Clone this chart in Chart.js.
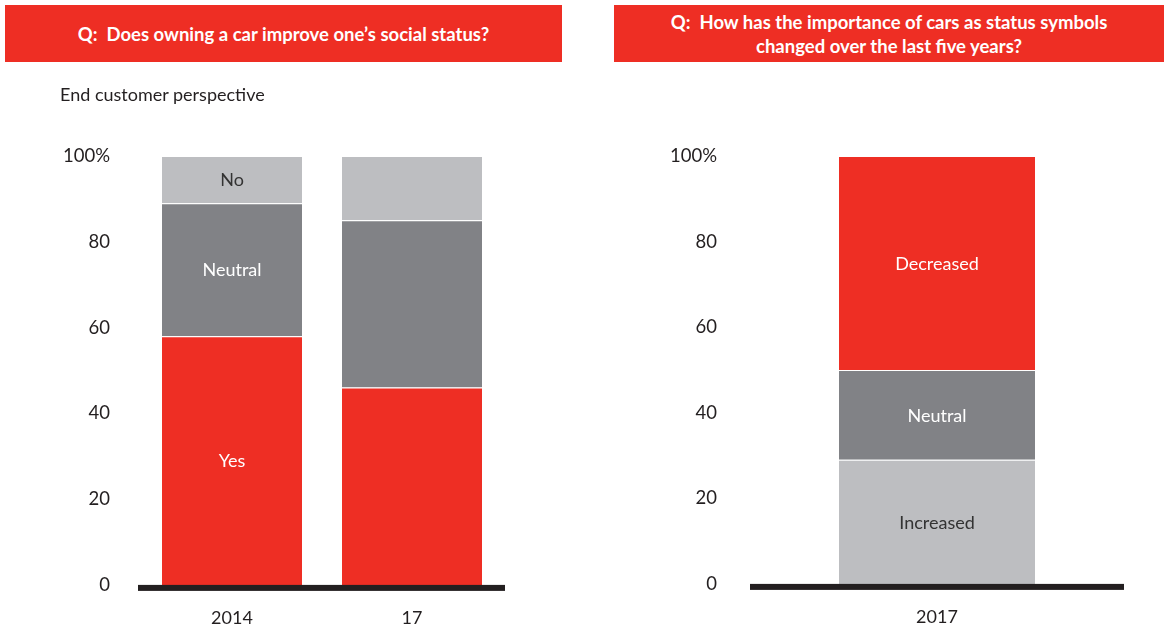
<!DOCTYPE html>
<html><head><meta charset="utf-8">
<script src="https://cdn.jsdelivr.net/npm/chart.js@4.4.1/dist/chart.umd.min.js"></script>
<style>
html,body{margin:0;padding:0;background:#fff;width:1164px;height:628px;overflow:hidden;position:relative;font-family:Lato, "Open Sans", sans-serif;}
.hdr{position:absolute;top:5px;height:57px;background:#EE2E24;color:#fff;font-weight:700;font-size:18.5px;display:flex;align-items:center;justify-content:center;text-align:center;line-height:24px;white-space:pre;z-index:2;}
#c1{position:absolute;left:0;top:0;}
#c2{position:absolute;left:590px;top:0;}
.sub{position:absolute;left:60px;top:83px;font-size:18px;color:#231F20;z-index:2;}
</style>
</head>
<body>
<div class="hdr" style="left:5px;width:557px;">Q:  Does owning a car improve one’s social status?</div>
<div class="hdr" style="left:614px;width:550px;">Q:  How has the importance of cars as status symbols
changed over the last five years?</div>
<div class="sub">End customer perspective</div>
<canvas id="c1" width="582" height="628"></canvas>
<canvas id="c2" width="574" height="628"></canvas>
<script>
// ---- data ----
const leftCategories = ['2014', '17'];
const leftYes = [58, 46];
const leftNeutral = [31, 39];
const leftNo = [11, 15];
const leftYesLabels = ['Yes', ''];
const leftNeutralLabels = ['Neutral', ''];
const leftNoLabels = ['No', ''];

const rightCategories = ['2017'];
const rightIncreased = [29];
const rightNeutral = [21];
const rightDecreased = [50];
const rightIncreasedLabels = ['Increased'];
const rightNeutralLabels = ['Neutral'];
const rightDecreasedLabels = ['Decreased'];

const yTickValues = [0, 20, 40, 60, 80, 100];
const yTickLabels = ['0', '20', '40', '60', '80', '100%'];

// ---- style ----
const RED = '#EE2E24', DARK = '#818286', LIGHT = '#BDBEC1', INK = '#231F20';
const FONT = 'Lato, "Open Sans", sans-serif';

const segLabelPlugin = {
  id: 'segLabels',
  afterDatasetsDraw(chart) {
    const ctx = chart.ctx;
    ctx.save();
    ctx.font = '18px ' + FONT;
    ctx.textAlign = 'center';
    ctx.textBaseline = 'middle';
    chart.data.datasets.forEach((ds, i) => {
      const meta = chart.getDatasetMeta(i);
      meta.data.forEach((el, j) => {
        const t = ds.segLabels[j];
        if (!t) return;
        ctx.fillStyle = ds.segLabelColor;
        ctx.fillText(t, el.x, (el.y + el.base) / 2 + 1);
      });
    });
    ctx.restore();
  }
};

function baselinePlugin(extL, extR) {
  return {
    id: 'baseline',
    afterDatasetsDraw(chart) {
      const a = chart.chartArea, ctx = chart.ctx;
      ctx.save();
      ctx.fillStyle = INK;
      ctx.fillRect(a.left - extL, a.bottom, a.right - a.left + extL + extR, 6);
      ctx.restore();
    }
  };
}

function makeOptions(yWidth, yPad, padRight, barPct) {
  return {
    responsive: false,
    animation: false,
    devicePixelRatio: 1,
    layout: { padding: { top: 156, right: padRight, left: 0, bottom: 0 } },
    plugins: { legend: { display: false }, tooltip: { enabled: false } },
    datasets: { bar: { barPercentage: barPct, categoryPercentage: 1 } },
    scales: {
      x: {
        stacked: true,
        grid: { display: false, drawTicks: false },
        border: { display: false },
        ticks: { color: INK, font: { family: FONT, size: 18 }, padding: 22 },
        afterFit(s) { s.height = 43; }
      },
      y: {
        stacked: true,
        min: 0, max: 100,
        grid: { display: false, drawTicks: false },
        border: { display: false },
        afterBuildTicks(s) { s.ticks = yTickValues.map(v => ({ value: v })); },
        ticks: {
          color: INK, font: { family: FONT, size: 18.5 }, padding: yPad,
          callback: (v) => yTickLabels[yTickValues.indexOf(v)]
        },
        afterFit(s) { s.width = yWidth; }
      }
    }
  };
}

const segBorder = { top: 1, bottom: 0, left: 0, right: 0 };

new Chart(document.getElementById('c1'), {
  type: 'bar',
  data: {
    labels: leftCategories,
    datasets: [
      { data: leftYes, backgroundColor: RED, borderColor: '#fff', borderWidth: segBorder, borderSkipped: false, segLabels: leftYesLabels, segLabelColor: '#fff' },
      { data: leftNeutral, backgroundColor: DARK, borderColor: '#fff', borderWidth: segBorder, borderSkipped: false, segLabels: leftNeutralLabels, segLabelColor: '#fff' },
      { data: leftNo, backgroundColor: LIGHT, borderColor: '#fff', borderWidth: segBorder, borderSkipped: false, segLabels: leftNoLabels, segLabelColor: '#333' }
    ]
  },
  options: makeOptions(142, 32, 80, 140 / 180),
  plugins: [segLabelPlugin, baselinePlugin(4, 3)]
});

new Chart(document.getElementById('c2'), {
  type: 'bar',
  data: {
    labels: rightCategories,
    datasets: [
      { data: rightIncreased, backgroundColor: LIGHT, borderColor: '#fff', borderWidth: segBorder, borderSkipped: false, segLabels: rightIncreasedLabels, segLabelColor: '#333' },
      { data: rightNeutral, backgroundColor: DARK, borderColor: '#fff', borderWidth: segBorder, borderSkipped: false, segLabels: rightNeutralLabels, segLabelColor: '#fff' },
      { data: rightDecreased, backgroundColor: RED, borderColor: '#fff', borderWidth: segBorder, borderSkipped: false, segLabels: rightDecreasedLabels, segLabelColor: '#fff' }
    ]
  },
  options: makeOptions(160, 33, 40, 196 / 374),
  plugins: [segLabelPlugin, baselinePlugin(0, 0)]
});
</script>
</body></html>
